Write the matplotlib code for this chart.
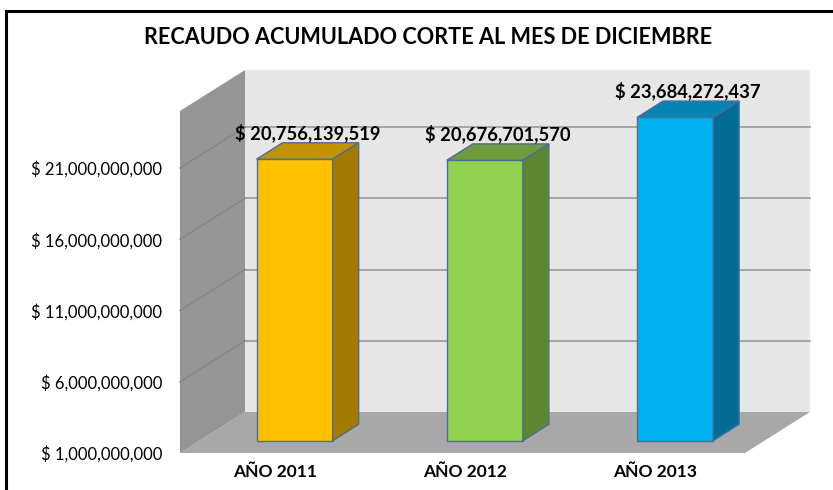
import matplotlib.pyplot as plt
from matplotlib.patches import Polygon, Rectangle

# data
years = ["AÑO 2011", "AÑO 2012", "AÑO 2013"]
recaudo = [20756139519, 20676701570, 23684272437]
y_ticks = [1e9, 6e9, 11e9, 16e9, 21e9]

front_colors = ["#FFC000", "#92D050", "#00B0F0"]
top_colors = ["#C29200", "#6F9B3C", "#0085B5"]
side_colors = ["#A37B00", "#5E8632", "#006C97"]

# fake 3d depth, in pixels
DEPTH_X = 65
DEPTH_Y = 41
Z_FRONT, Z_BACK = 0.3, 0.7
BAR_W = 0.4

plt.rcParams['font.family'] = ['Lato', 'DejaVu Sans']

fig = plt.figure(figsize=(8.33, 4.9), dpi=100)
ax = fig.add_axes([180/833, 37/490, 565/833, 342/490])
ax.set_xlim(-0.5, 2.47)
ax.set_ylim(1e9, 25e9)
ax.patch.set_visible(False)
for s in ax.spines.values():
    s.set_visible(False)

x0, x1 = ax.get_xlim()
y0, y1 = ax.get_ylim()
# pixel depth -> data units
ddx = DEPTH_X * (x1 - x0) / ax.bbox.width
ddy = DEPTH_Y * (y1 - y0) / ax.bbox.height

def proj(x, y, z):
    return (x + z*ddx, y + z*ddy)

def face(pts, **kw):
    ax.add_patch(Polygon([proj(*p) for p in pts], closed=True, clip_on=False, **kw))

# walls and floor
face([(x0, y0, 0), (x1, y0, 0), (x1, y0, 1), (x0, y0, 1)], facecolor="#a8a8a8", edgecolor="none")
face([(x0, y0, 1), (x1, y0, 1), (x1, y1, 1), (x0, y1, 1)], facecolor="#e6e6e6", edgecolor="none")
face([(x0, y0, 0), (x0, y1, 0), (x0, y1, 1), (x0, y0, 1)], facecolor="#959595", edgecolor="none")

for t in y_ticks[1:]:
    a, b = proj(x0, t, 1), proj(x1, t, 1)
    ax.plot([a[0], b[0]], [a[1], b[1]], color="#9a9a9a", lw=1.2, clip_on=False)
    c = proj(x0, t, 0)
    ax.plot([c[0], a[0]], [c[1], a[1]], color="#858585", lw=1.0, clip_on=False)

# bars
edge = "#4a6f96"
for i, v in enumerate(recaudo):
    fx, fy = proj(i, y0, Z_FRONT)
    ax.bar(fx, v - y0, width=BAR_W, bottom=fy, color=front_colors[i],
           edgecolor=edge, linewidth=1, clip_on=False, zorder=3)
    l, r = i - BAR_W/2, i + BAR_W/2
    face([(l, v, Z_FRONT), (r, v, Z_FRONT), (r, v, Z_BACK), (l, v, Z_BACK)],
         facecolor=top_colors[i], edgecolor=edge, lw=1, zorder=3)
    face([(r, y0, Z_FRONT), (r, v, Z_FRONT), (r, v, Z_BACK), (r, y0, Z_BACK)],
         facecolor=side_colors[i], edgecolor=edge, lw=1, zorder=3)
    tx, ty = proj(i, v, 0.5)
    ax.annotate("$ {:,}".format(v), (tx, ty), xytext=(0, 13), textcoords="offset points",
                ha="center", va="center", fontsize=13.2, fontweight="bold", zorder=4,
                annotation_clip=False)

ax.set_xticks(range(len(years)))
ax.set_xticklabels(years, fontsize=12.5, fontweight="bold")
ax.set_yticks(y_ticks)
ax.set_yticklabels(["$ {:,}".format(int(t)) for t in y_ticks], fontsize=12)
ax.tick_params(axis="both", length=0)
ax.tick_params(axis="y", pad=13)
ax.tick_params(axis="x", pad=8)

fig.text(428/833, 1 - 38/490, "RECAUDO ACUMULADO CORTE AL MES DE DICIEMBRE",
         ha="center", va="center", fontsize=15.6, fontweight="bold")

fig.patches.append(Rectangle((6/833, -0.1), 2, 1 - 11/490 + 0.1, transform=fig.transFigure,
                             fill=False, edgecolor="black", lw=2.2))

fig.savefig("out.png", dpi=100)
